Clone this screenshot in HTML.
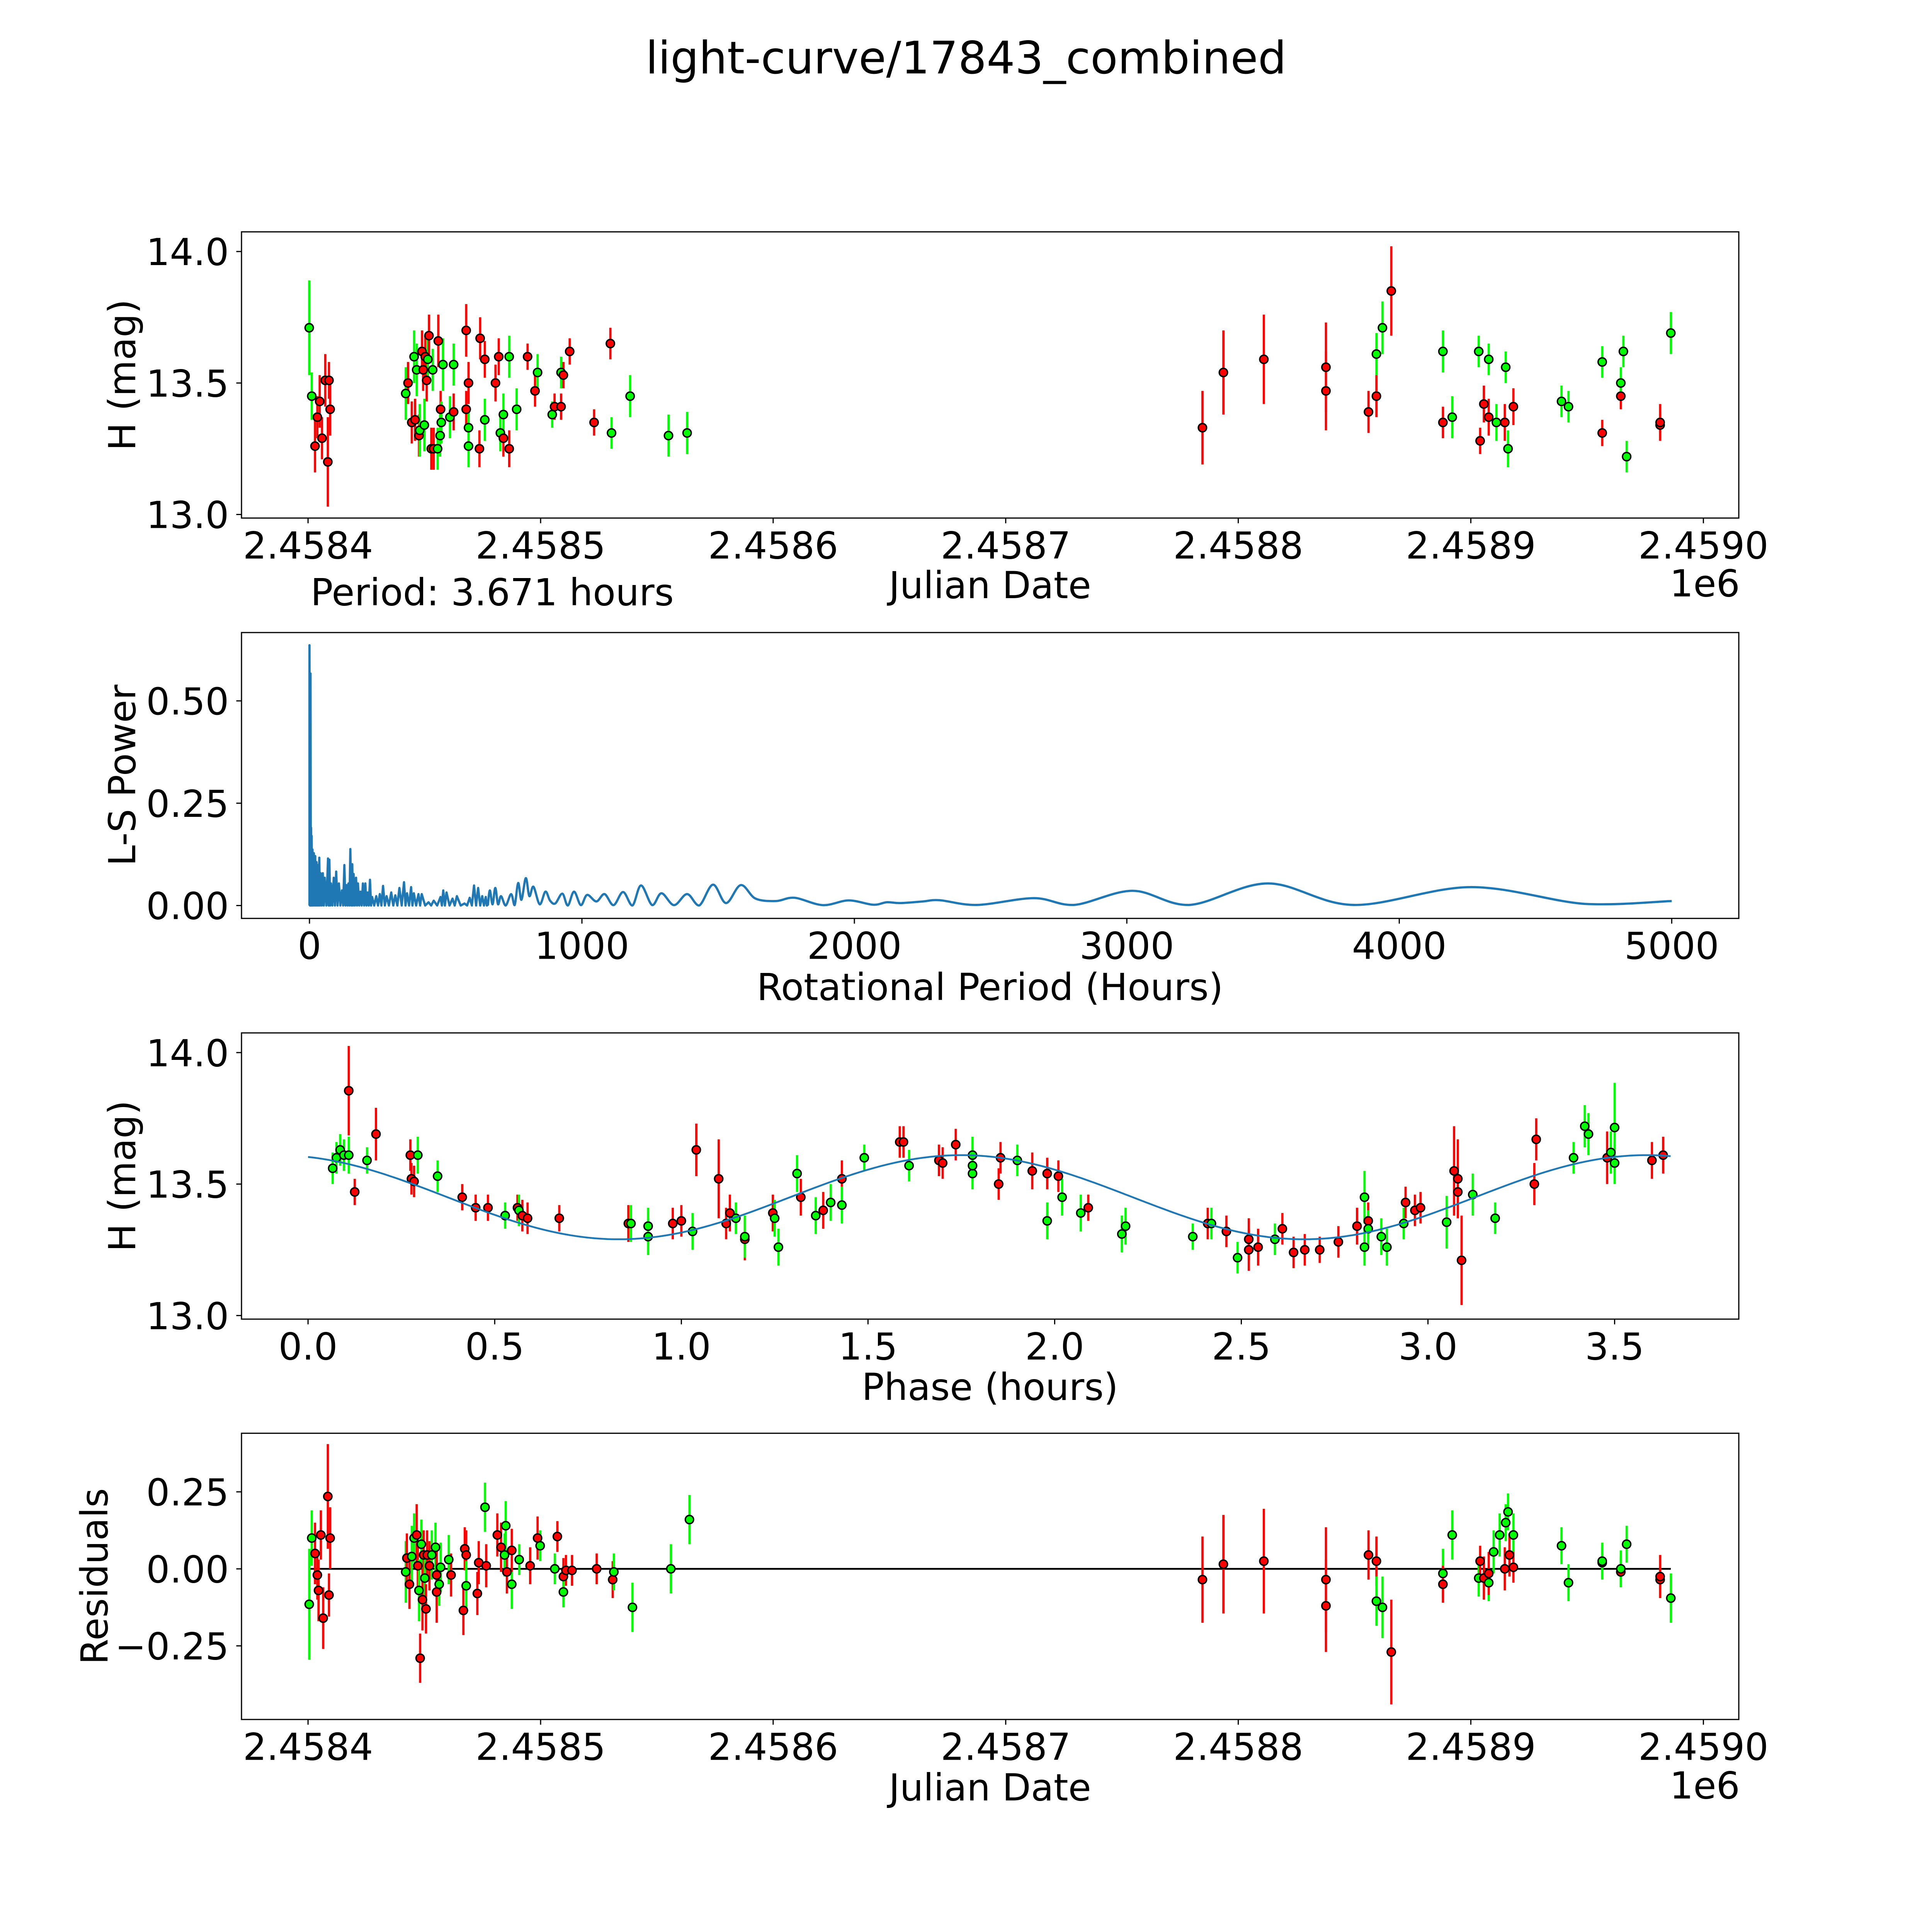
<!DOCTYPE html>
<html><head><meta charset="utf-8"><style>
html,body{margin:0;padding:0;background:#fff;overflow:hidden;width:100vw;height:100vh;}
svg{display:block;width:100vw;height:100vh;font-family:"DejaVu Sans","Liberation Sans",sans-serif;}
</style></head><body>
<svg id="fig" xmlns="http://www.w3.org/2000/svg" viewBox="0 0 5400 5400" preserveAspectRatio="none">
<rect x="0" y="0" width="5400" height="5400" fill="#fff"/>
<text x="2700" y="205" font-size="125" text-anchor="middle">light-curve/17843_combined</text>
</svg>
<script>
// ---------- data: light curve (JD - 2458000) ----------
const lcDay=[400.5,401.6,403,404,405,406,407.4,408.5,409.5,409,442,443,444.6,445.6,446,446.7,447.7,448,449,449.5,450,450.4,451,451.5,452,453,453.6,454,455.7,456,457,456.8,457.3,458,461,462.6,462.6,468,468,469,469,469,474,473.7,476,476,480.6,482,482.7,484,484,486.5,486.5,489.7,494.4,497.6,498.7,505,506,508.8,508.8,509.8,512.5,523,530,530.5,538.5,555,563,784.6,793.6,811,837.7,837.7,856,859.4,859.4,862,865.8,888,888,892,903.4,904,905.6,907.7,907.7,911,914.6,915,916,918.3,939,942,956.5,956.5,964.5,964.5,965.6,967,981.4,981.4,986];
const lcMag=[13.71,13.45,13.26,13.37,13.43,13.29,13.51,13.20,13.40,13.51,13.46,13.50,13.35,13.60,13.36,13.55,13.30,13.32,13.62,13.55,13.34,13.60,13.51,13.59,13.68,13.25,13.55,13.25,13.25,13.66,13.40,13.30,13.35,13.57,13.37,13.39,13.57,13.70,13.40,13.50,13.33,13.26,13.67,13.25,13.59,13.36,13.50,13.60,13.31,13.29,13.38,13.60,13.25,13.40,13.60,13.47,13.54,13.38,13.41,13.41,13.54,13.53,13.62,13.35,13.65,13.31,13.45,13.30,13.31,13.33,13.54,13.59,13.56,13.47,13.39,13.45,13.61,13.71,13.85,13.62,13.35,13.37,13.62,13.28,13.42,13.59,13.37,13.35,13.35,13.56,13.25,13.41,13.43,13.41,13.31,13.58,13.45,13.50,13.62,13.22,13.34,13.35,13.69];
const lcErr=[.18,.09,.10,.08,.10,.08,.10,.17,.10,.07,.10,.08,.08,.10,.08,.10,.08,.10,.08,.08,.10,.08,.08,.08,.08,.08,.08,.08,.08,.10,.07,.08,.08,.10,.08,.07,.08,.10,.07,.08,.08,.08,.08,.07,.07,.08,.07,.07,.07,.07,.08,.08,.07,.08,.05,.06,.07,.05,.05,.05,.06,.05,.05,.05,.06,.06,.08,.08,.08,.14,.16,.17,.17,.15,.08,.08,.08,.10,.17,.08,.06,.08,.06,.05,.07,.06,.07,.07,.07,.06,.07,.07,.06,.06,.05,.06,.05,.06,.06,.06,.05,.07,.08];
const lcBand=['g','g','r','r','r','r','r','r','r','r','g','r','r','g','r','g','r','g','r','r','g','r','r','g','r','r','g','r','g','r','r','g','g','g','g','r','g','r','r','r','g','g','r','r','r','g','r','r','g','r','g','g','r','g','r','r','g','g','r','r','g','r','r','r','r','g','g','g','g','r','r','r','r','r','r','r','g','g','r','g','r','g','g','r','r','g','r','g','r','g','g','r','g','g','r','g','r','g','g','g','r','r','g'];
// ---------- data: residuals ----------
const resDay=[400.5,401.6,403,404,404.5,405.5,406.5,408.5,409.5,409,442,442.5,443.6,444.6,445.6,446.7,447.2,447.7,448.2,448.7,449.2,449.7,450.2,450.7,451.2,452.2,453.2,454.8,455.3,455.3,456.4,457,460.5,461.5,466.8,467.4,468,468,472.8,473.4,476.1,476.6,481.4,483,484.5,485,485.5,487.6,487.6,490.8,495.5,498.7,499.8,506.1,507.2,509.8,509.8,510.9,513.5,524.1,531,531.5,539.5,556,564,784.6,793.6,811,837.7,837.7,856,859.4,859.4,862,865.8,888,888,892,903.4,904,905.6,907.7,907.7,909.8,912.4,914.6,915,916,916.6,918.3,918.3,939,942,956.5,956.5,964.5,964.5,967,981.4,981.4,986];
const resVal=[-0.115,0.10,0.05,-0.02,-0.07,0.11,-0.16,0.235,0.10,-0.085,-0.01,0.035,-0.05,0.04,0.10,0.11,0.01,-0.07,-0.29,0.08,-0.10,0.045,-0.03,-0.13,0.045,0.01,0.045,0.07,-0.02,-0.075,-0.05,0.005,0.03,-0.02,-0.135,0.065,0.045,-0.055,-0.08,0.02,0.20,0.01,0.11,0.07,0.045,0.14,-0.01,-0.05,0.06,0.03,0.01,0.10,0.075,0,0.105,-0.025,-0.075,-0.005,-0.005,0,-0.035,-0.01,-0.125,0,0.16,-0.035,0.015,0.025,-0.035,-0.12,0.045,0.025,-0.105,-0.125,-0.27,-0.015,-0.05,0.11,-0.03,0.025,-0.03,-0.045,-0.015,0.055,0.11,0,0.15,0.185,0.045,0.11,0.005,0.075,-0.045,0.02,0.025,-0.01,0,0.08,-0.035,-0.025,-0.095];
const resErr=[.18,.09,.10,.08,.10,.08,.10,.17,.10,.07,.10,.08,.08,.10,.08,.10,.08,.10,.08,.08,.10,.08,.08,.08,.08,.08,.08,.08,.08,.10,.07,.08,.08,.07,.08,.07,.08,.08,.07,.07,.08,.07,.07,.08,.07,.08,.07,.08,.07,.05,.06,.07,.05,.05,.05,.06,.05,.05,.05,.05,.06,.06,.08,.08,.08,.14,.16,.17,.17,.15,.08,.08,.08,.10,.17,.08,.06,.08,.06,.05,.07,.06,.07,.07,.07,.07,.06,.06,.07,.07,.05,.06,.06,.05,.06,.05,.06,.06,.05,.07,.08];
const resBand=['g','g','r','r','r','r','r','r','r','r','g','r','r','g','g','r','r','g','r','g','r','r','g','r','r','r','g','g','r','r','g','g','g','r','r','r','r','g','r','r','g','r','r','r','g','g','r','g','r','g','r','r','g','g','r','r','g','r','r','r','r','g','g','g','g','r','r','r','r','r','r','r','g','g','r','g','r','g','g','r','r','g','r','g','g','r','g','g','r','g','r','g','g','r','g','r','g','g','r','r','g'];
// ---------- data: phased light curve ----------
const phHour=[.066,.076,.086,.096,.109,.109,.125,.158,.182,.274,.294,.277,.284,.347,.413,.449,.482,.528,.561,.565,.574,.588,.673,.858,.865,.911,.911,.977,1.0,1.03,1.04,1.10,1.12,1.13,1.146,1.17,1.17,1.26,1.245,1.25,1.31,1.32,1.36,1.38,1.40,1.43,1.43,1.49,1.585,1.595,1.61,1.69,1.735,1.70,1.78,1.78,1.85,1.855,1.78,1.90,1.94,1.98,1.98,2.01,2.02,2.07,2.09,2.18,2.19,2.37,2.41,2.42,2.46,2.49,2.52,2.52,2.545,2.59,2.61,2.64,2.67,2.71,2.76,2.81,2.83,2.83,2.84,2.84,2.875,2.89,2.935,2.94,2.965,2.98,3.05,3.07,3.08,3.08,3.09,3.12,3.18,3.285,3.29,3.39,3.42,3.43,3.48,3.49,3.50,3.50,3.60,3.63];
const phMag=[13.56,13.60,13.63,13.61,13.61,13.855,13.47,13.59,13.69,13.61,13.61,13.52,13.51,13.53,13.45,13.41,13.41,13.38,13.41,13.40,13.38,13.37,13.37,13.35,13.35,13.34,13.30,13.35,13.36,13.32,13.63,13.52,13.35,13.39,13.37,13.29,13.30,13.26,13.39,13.37,13.54,13.45,13.38,13.40,13.43,13.52,13.42,13.60,13.66,13.66,13.57,13.59,13.65,13.58,13.61,13.54,13.50,13.60,13.57,13.59,13.55,13.36,13.54,13.53,13.45,13.39,13.41,13.31,13.34,13.30,13.35,13.35,13.32,13.22,13.25,13.29,13.26,13.29,13.33,13.24,13.25,13.25,13.28,13.34,13.45,13.26,13.36,13.33,13.30,13.26,13.35,13.43,13.40,13.41,13.355,13.55,13.52,13.47,13.21,13.46,13.37,13.50,13.67,13.60,13.72,13.69,13.60,13.62,13.715,13.58,13.59,13.61];
const phErr=[.06,.06,.06,.06,.07,.17,.05,.05,.1,.06,.07,.06,.06,.06,.05,.05,.05,.05,.05,.06,.06,.06,.05,.07,.07,.07,.07,.06,.06,.07,.1,.15,.06,.07,.06,.08,.08,.07,.07,.07,.07,.07,.07,.07,.07,.07,.07,.05,.06,.06,.06,.06,.06,.06,.07,.06,.06,.06,.06,.06,.07,.07,.06,.06,.07,.07,.05,.07,.07,.05,.06,.06,.06,.06,.08,.08,.07,.06,.06,.06,.06,.05,.06,.07,.1,.07,.07,.07,.07,.07,.06,.06,.06,.06,.1,.17,.15,.1,.17,.08,.06,.08,.08,.06,.08,.08,.1,.08,.17,.08,.07,.07];
const phBand=['g','g','g','g','g','r','r','g','r','r','g','r','r','g','r','r','r','g','r','g','r','r','r','r','g','g','g','r','r','g','r','r','r','r','g','r','g','g','r','g','g','r','g','r','g','r','g','g','r','r','g','r','r','r','g','g','r','r','g','g','r','g','r','r','g','g','r','g','g','g','r','g','r','g','r','r','r','g','r','r','r','r','r','r','g','g','r','g','g','g','g','r','r','r','g','r','r','r','r','g','g','r','r','g','g','g','r','g','g','g','r','r'];
// fit model parameters (double-peaked sinusoid)
const fitMean=13.45, fitAmp=0.16, fitPeakPhase=1.75, fitPeriod=3.671, fitEnd=3.65;
// ---------- data: periodogram ----------
const pgSpikePeriod=[0,3.8,6,8,11,16,21,26,31,36,41,49,56,68,73,79,89,98,108,119,128,136,143,150,157,162,171,178,187,196,205,213,222,230,245,258,270,283,300,315,330,347,358,373,383,400,412,437,456,481,491,503,525,541,569,588,604,619,634,647];
const pgSpikePower=[0.636,0.567,0.19,0.17,0.137,0.128,0.121,0.106,0.099,0.117,0.079,0.079,0.068,0.115,0.112,0.054,0.068,0.083,0.054,0.037,0.099,0.05,0.054,0.138,0.101,0.077,0.068,0.054,0.034,0.054,0.054,0.032,0.063,0.021,0.023,0.028,0.048,0.023,0.032,0.025,0.043,0.057,0.030,0.045,0.030,0.028,0.028,0.008,0.012,0.021,0.037,0.032,0.017,0.023,0.005,0.019,0.049,0.043,0.023,0.021];
const pgSmoothPeriod=[655,662,672,682,692,703,720,740,753,766,778,794,807,822,845,866,883,902,928,948,971,996,1019,1053,1083,1116,1151,1185,1217,1258,1292,1338,1386,1430,1481,1529,1583,1637,1712,1780,1884,1979,2069,2119,2168,2251,2313,2450,2659,2806,3021,3229,3518,3832,4262,4681,5000];
const pgSmoothPower=[0.002,0.037,0.003,0.043,0.003,0.023,0,0.028,0.001,0.055,0.014,0.067,0.023,0.046,0.003,0.034,0.012,0.005,0.029,0,0.034,0.001,0.026,0.01,0.028,0.001,0.033,0,0.049,0.001,0.030,0.001,0.028,0,0.051,0.006,0.05,0.017,0.011,0.019,0.001,0.0125,0.002,0.008,0.006,0.01,0.013,0.0015,0.018,0.0015,0.036,0.0015,0.054,0.0015,0.045,0.004,0.011];
// ---------- tick labels ----------
const jdTicks=[2458400,2458500,2458600,2458700,2458800,2458900,2459000];
const jdTickLabels=['2.4584','2.4585','2.4586','2.4587','2.4588','2.4589','2.4590'];
const magTicks=[13.0,13.5,14.0];
const magTickLabels=['13.0','13.5','14.0'];
const pgXTicks=[0,1000,2000,3000,4000,5000];
const pgXTickLabels=['0','1000','2000','3000','4000','5000'];
const pgYTicks=[0,0.25,0.5];
const pgYTickLabels=['0.00','0.25','0.50'];
const phTicks=[0,0.5,1,1.5,2,2.5,3,3.5];
const phTickLabels=['0.0','0.5','1.0','1.5','2.0','2.5','3.0','3.5'];
const resTicks=[-0.25,0,0.25];
const resTickLabels=['\u22120.25','0.00','0.25'];

const NS='http://www.w3.org/2000/svg';
const svg=document.getElementById('fig');
const L=675,R=4860;
const P=[{t:648,b:1448},{t:1768,b:2567},{t:2887,b:3687},{t:4006,b:4806}];
// axis functions
const xJD=j=>861+(j-2458400)*6.5;
const yMag1=m=>703+(14-m)*735;
const yMag3=m=>2942+(14-m)*735;
const xPer=p=>865+p*0.7615;
const yPow=v=>2531-v*1144;
const xPh=h=>861+h*1043.4;
const yRes=r=>4385-r*861;
const RED='#ff0000',GREEN='#00ff00';

function mk(tag,attrs,parent){const e=document.createElementNS(NS,tag);for(const k in attrs)e.setAttribute(k,attrs[k]);(parent||svg).appendChild(e);return e;}

function axes(i,name){
  const g=mk('g',{});
  
  
  const r=mk('rect',{x:L,y:P[i].t,width:R-L,height:P[i].b-P[i].t,fill:'none',stroke:'#000','stroke-width':3.3},g);
  
  
  return g;
}
function xticks(i,vals,labels,fx,name){
  const g=mk('g',{});
  
  
  vals.forEach((v,k)=>{const x=fx(v);
    mk('line',{x1:x,x2:x,y1:P[i].b,y2:P[i].b+14.6,stroke:'#000','stroke-width':3.3},g);
    const t=mk('text',{x:x,y:P[i].b+113,'font-size':104,'text-anchor':'middle'},g);
    t.textContent=labels[k];
    
    
  });
}
function yticks(i,vals,labels,fy,name){
  const g=mk('g',{});
  
  
  vals.forEach((v,k)=>{const y=fy(v);
    mk('line',{x1:L-14.6,x2:L,y1:y,y2:y,stroke:'#000','stroke-width':3.3},g);
    const t=mk('text',{x:640,y:y+38,'font-size':104,'text-anchor':'end'},g);
    t.textContent=labels[k];
    
    
  });
}
function label(txt,x,y,rot,name){
  const t=mk('text',{x:x,y:y,'font-size':104,'text-anchor':'middle'});
  if(rot)t.setAttribute('transform','rotate(-90 '+x+' '+y+')');
  t.textContent=txt;
  
  
}
function errPoints(xs,ys,es,bands,fx,fy,name){
  const g=mk('g',{});
  
  
  xs.forEach((xv,k)=>{const x=fx(xv);
    const l=mk('line',{x1:x,x2:x,y1:fy(ys[k]+es[k]),y2:fy(ys[k]-es[k]),stroke:bands[k]==='r'?RED:GREEN,'stroke-width':6.25},g);
    
    
  });
  xs.forEach((xv,k)=>{
    const c=mk('circle',{cx:fx(xv),cy:fy(ys[k]),r:11.5,fill:bands[k]==='r'?RED:GREEN,stroke:'#000','stroke-width':4},g);
    
    
  });
}

// Panel 1
axes(0,'light-curve-axes');
xticks(0,jdTicks,jdTickLabels,xJD,'light-curve-x-ticks');
yticks(0,magTicks,magTickLabels,yMag1,'light-curve-y-ticks');
errPoints(lcDay.map(d=>2458000+d),lcMag,lcErr,lcBand,xJD,yMag1,'light-curve-points');
label('H (mag)',378,1048,true,'light-curve-y-axis-title');
label('Julian Date',2767,1672,false,'light-curve-x-axis-title');
label('1e6',4765,1667,false,'light-curve-offset-label');
const per=mk('text',{x:868,y:1692,'font-size':104,'text-anchor':'start'});
per.textContent='Period: 3.671 hours';



// Panel 2 periodogram
axes(1,'periodogram-axes');
xticks(1,pgXTicks,pgXTickLabels,xPer,'periodogram-x-ticks');
yticks(1,pgYTicks,pgYTickLabels,yPow,'periodogram-y-ticks');
label('L-S Power',378,2167,true,'periodogram-y-axis-title');
label('Rotational Period (Hours)',2767,2795,false,'periodogram-x-axis-title');
(function(){
  let d='M'+xPer(pgSpikePeriod[0])+' '+yPow(0);
  for(let k=0;k<pgSpikePeriod.length;k++){
    d+=' L'+xPer(pgSpikePeriod[k]).toFixed(1)+' '+yPow(pgSpikePower[k]).toFixed(1);
    const nxt=k+1<pgSpikePeriod.length?pgSpikePeriod[k+1]:pgSmoothPeriod[0];
    d+=' L'+xPer((pgSpikePeriod[k]+nxt)/2).toFixed(1)+' '+yPow(0).toFixed(1);
  }
  const px=pgSmoothPeriod.map(xPer), py=pgSmoothPower.map(yPow);
  d+=' L'+px[0].toFixed(1)+' '+py[0].toFixed(1);
  for(let k=0;k<px.length-1;k++){
    const x0=px[Math.max(k-1,0)],y0=py[Math.max(k-1,0)],x1=px[k],y1=py[k],x2=px[k+1],y2=py[k+1],x3=px[Math.min(k+2,px.length-1)],y3=py[Math.min(k+2,px.length-1)];
    const c1x=x1+(x2-x0)/6,c1y=y1+(y2-y0)/6,c2x=x2-(x3-x1)/6,c2y=y2-(y3-y1)/6;
    d+=' C'+c1x.toFixed(1)+' '+Math.min(c1y,yPow(0)).toFixed(1)+' '+c2x.toFixed(1)+' '+Math.min(c2y,yPow(0)).toFixed(1)+' '+x2.toFixed(1)+' '+y2.toFixed(1);
  }
  const p=mk('path',{d:d,fill:'none',stroke:'#1f77b4','stroke-width':6.25,'stroke-linejoin':'round'});
  
  
})();

// Panel 3 phased
axes(2,'phase-axes');
xticks(2,phTicks,phTickLabels,xPh,'phase-x-ticks');
yticks(2,magTicks,magTickLabels,yMag3,'phase-y-ticks');
label('H (mag)',378,3287,true,'phase-y-axis-title');
label('Phase (hours)',2767,3913,false,'phase-x-axis-title');
errPoints(phHour,phMag,phErr,phBand,xPh,yMag3,'phase-points');
(function(){
  let d='';
  for(let k=0;k<=400;k++){const h=fitEnd*k/400;
    const m=fitMean+fitAmp*Math.cos(2*Math.PI*2*(h-fitPeakPhase)/fitPeriod);
    d+=(k?' L':'M')+xPh(h).toFixed(1)+' '+yMag3(m).toFixed(1);}
  const p=mk('path',{d:d,fill:'none',stroke:'#1f77b4','stroke-width':5});
  
  
})();

// Panel 4 residuals
axes(3,'residuals-axes');
xticks(3,jdTicks,jdTickLabels,xJD,'residuals-x-ticks');
yticks(3,resTicks,resTickLabels,yRes,'residuals-y-ticks');
label('Residuals',300,4406,true,'residuals-y-axis-title');
label('Julian Date',2767,5032,false,'residuals-x-axis-title');
label('1e6',4765,5027,false,'residuals-offset-label');
const zl=mk('line',{x1:xJD(2458000+resDay[0]),x2:xJD(2458000+resDay[resDay.length-1]),y1:yRes(0),y2:yRes(0),stroke:'#000','stroke-width':5});


errPoints(resDay.map(d=>2458000+d),resVal,resErr,resBand,xJD,yRes,'residual-points');
</script>
</body></html>
